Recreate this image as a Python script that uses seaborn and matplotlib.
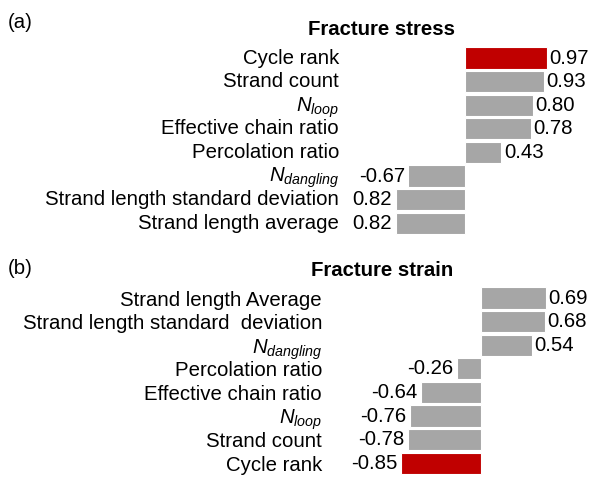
import matplotlib
matplotlib.use("Agg")
import matplotlib.pyplot as plt
import seaborn as sns
import pandas as pd

# ---- data ----
cats_a = ["Cycle rank", "Strand count", r"$N_{loop}$", "Effective chain ratio",
          "Percolation ratio", r"$N_{dangling}$", "Strand length standard deviation",
          "Strand length average"]
vals_a = [0.97, 0.93, 0.80, 0.78, 0.43, -0.67, -0.82, -0.82]
text_a = ["0.97", "0.93", "0.80", "0.78", "0.43", "-0.67", "0.82", "0.82"]

cats_b = ["Strand length Average", "Strand length standard  deviation", r"$N_{dangling}$",
          "Percolation ratio", "Effective chain ratio", r"$N_{loop}$", "Strand count",
          "Cycle rank"]
vals_b = [0.69, 0.68, 0.54, -0.26, -0.64, -0.76, -0.78, -0.85]
text_b = ["0.69", "0.68", "0.54", "-0.26", "-0.64", "-0.76", "-0.78", "-0.85"]

highlight = "Cycle rank"
RED = "#C00000"
GRAY = "#A6A6A6"

sns.set_theme(style="white")
plt.rcParams["font.family"] = ["Liberation Sans", "DejaVu Sans"]
plt.rcParams["mathtext.fontset"] = "custom"
plt.rcParams["mathtext.rm"] = "Liberation Sans"
plt.rcParams["mathtext.it"] = "Liberation Sans:italic"
plt.rcParams["mathtext.bf"] = "Liberation Sans:bold"
plt.rcParams["text.color"] = "black"
plt.rcParams["ytick.labelcolor"] = "black"
plt.rcParams["xtick.labelcolor"] = "black"

W, H = 593, 479
DPI = 100
FS = 14.7
fig = plt.figure(figsize=(W / DPI, H / DPI), dpi=DPI)


def px_axes(left, right, top, bottom):
    return fig.add_axes([left / W, 1 - bottom / H, (right - left) / W, (bottom - top) / H])


def panel(cats, vals, texts, left_px, zero_px, scale, first_center, pitch, label_dy=0):
    y0, y1 = -0.6, len(cats) - 1 + 0.6
    top = first_center + y0 * pitch
    bottom = first_center + y1 * pitch
    ax = px_axes(left_px, W, top, bottom)
    df = pd.DataFrame({"cat": cats, "val": vals})
    pal = {c: (RED if c == highlight else GRAY) for c in cats}
    sns.barplot(data=df, x="val", y="cat", hue="cat", palette=pal, legend=False,
                orient="h", width=0.9, saturation=1, edgecolor="white", linewidth=0.8,
                ax=ax)
    ax.set_xlim((left_px - zero_px) / scale, (W - zero_px) / scale)
    ax.set_ylim(y1, y0)
    for s in ax.spines.values():
        s.set_visible(False)
    ax.set_xticks([])
    ax.set_xlabel("")
    ax.set_ylabel("")
    ax.tick_params(axis="y", length=0, pad=4.3, labelsize=FS, labelcolor="black")
    if label_dy:
        import matplotlib.transforms as mtrans
        off = mtrans.ScaledTranslation(0, label_dy / DPI, fig.dpi_scale_trans)
        for lab in ax.get_yticklabels():
            lab.set_transform(lab.get_transform() + off)
    for i, (v, t) in enumerate(zip(vals, texts)):
        if v >= 0:
            ax.annotate(t, (v, i), xytext=(1.8, 0), textcoords="offset points",
                        ha="left", va="center", fontsize=FS, color="black")
        else:
            ax.annotate(t, (v, i), xytext=(-2.5, 0), textcoords="offset points",
                        ha="right", va="center", fontsize=FS, color="black")
    return ax


panel(cats_a, vals_a, text_a, left_px=345, zero_px=465, scale=84.5, first_center=58,
      pitch=23.6, label_dy=2)
panel(cats_b, vals_b, text_b, left_px=328, zero_px=481, scale=94, first_center=298,
      pitch=23.6)

fig.text(381 / W, 1 - 35 / H, "Fracture stress", ha="center", va="baseline",
         fontsize=FS, fontweight="bold")
fig.text(382.5 / W, 1 - 276 / H, "Fracture strain", ha="center", va="baseline",
         fontsize=FS, fontweight="bold")
fig.text(8 / W, 1 - 28 / H, "(a)", ha="left", va="baseline", fontsize=FS)
fig.text(8 / W, 1 - 274 / H, "(b)", ha="left", va="baseline", fontsize=FS)

fig.savefig("out.png", dpi=DPI)
